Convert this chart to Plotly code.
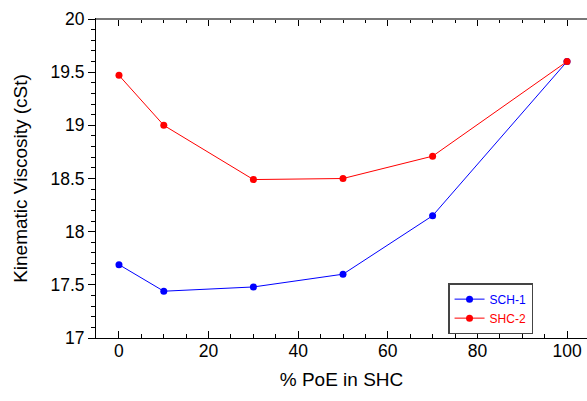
import plotly.graph_objects as go

x_pct = [0, 10, 30, 50, 70, 100]
sch1 = [17.69, 17.44, 17.48, 17.60, 18.15, 19.60]
shc2 = [19.47, 19.00, 18.49, 18.50, 18.71, 19.60]

x_ticks = [0, 20, 40, 60, 80, 100]
y_ticks = [17, 17.5, 18, 18.5, 19, 19.5, 20]
y_ticklabels = ["17", "17.5", "18", "18.5", "19", "19.5", "20"]

font = "Liberation Sans, Arial, sans-serif"

fig = go.Figure()
fig.add_trace(go.Scatter(
    x=x_pct, y=sch1, mode="lines+markers",
    name="<span style='color:#0000ff'>SCH-1</span>",
    line=dict(color="#0000ff", width=1),
    marker=dict(color="#0000ff", size=7, symbol="circle"),
))
fig.add_trace(go.Scatter(
    x=x_pct, y=shc2, mode="lines+markers",
    name="<span style='color:#ff0000'>SHC-2</span>",
    line=dict(color="#ff0000", width=1),
    marker=dict(color="#ff0000", size=7, symbol="circle"),
))

fig.update_layout(
    width=587, height=401,
    margin=dict(l=96, r=0, t=19, b=63, autoexpand=False),
    paper_bgcolor="white", plot_bgcolor="white",
    font=dict(family=font, size=17, color="#000000"),
    showlegend=True,
    legend=dict(
        x=0.717, y=0.172, xanchor="left", yanchor="top",
        bordercolor="#444444", borderwidth=1.5,
        bgcolor="white",
        font=dict(size=12, family=font),
        tracegroupgap=0, itemwidth=30,
        entrywidth=92, entrywidthmode="pixels",
    ),
)

fig.update_xaxes(
    range=[-5.13, 104.46], automargin=False,
    tickvals=x_ticks, ticktext=[str(v) for v in x_ticks],
    ticks="inside", ticklen=7, tickwidth=1, tickcolor="#000000",
    minor=dict(dtick=5, ticks="inside", ticklen=4, tickcolor="#000000"),
    showline=True, linecolor="#000000", linewidth=1,
    mirror="ticks", showgrid=False, zeroline=False,
    ticklabelstandoff=-3,
    title=dict(text="% PoE in SHC", font=dict(size=19), standoff=12),
    tickfont=dict(size=17.5),
)
fig.update_yaxes(
    range=[17, 20], automargin=False,
    tickvals=y_ticks, ticktext=y_ticklabels,
    ticks="outside", ticklen=7, tickwidth=1, tickcolor="#000000",
    minor=dict(dtick=0.1, ticks="outside", ticklen=4, tickcolor="#000000"),
    showline=True, linecolor="#000000", linewidth=1,
    showgrid=False, zeroline=False,
    title=dict(text="Kinematic Viscosity (cSt)", font=dict(size=19), standoff=17),
    tickfont=dict(size=17.5),
)

fig.add_shape(type="line", xref="paper", yref="paper", x0=0, x1=1, y0=1, y1=1,
              line=dict(color="#777777", width=2))

fig.write_html("out.html",
               config={"displayModeBar": False},
               post_script="document.body.style.margin='0';document.body.style.padding='0';")
